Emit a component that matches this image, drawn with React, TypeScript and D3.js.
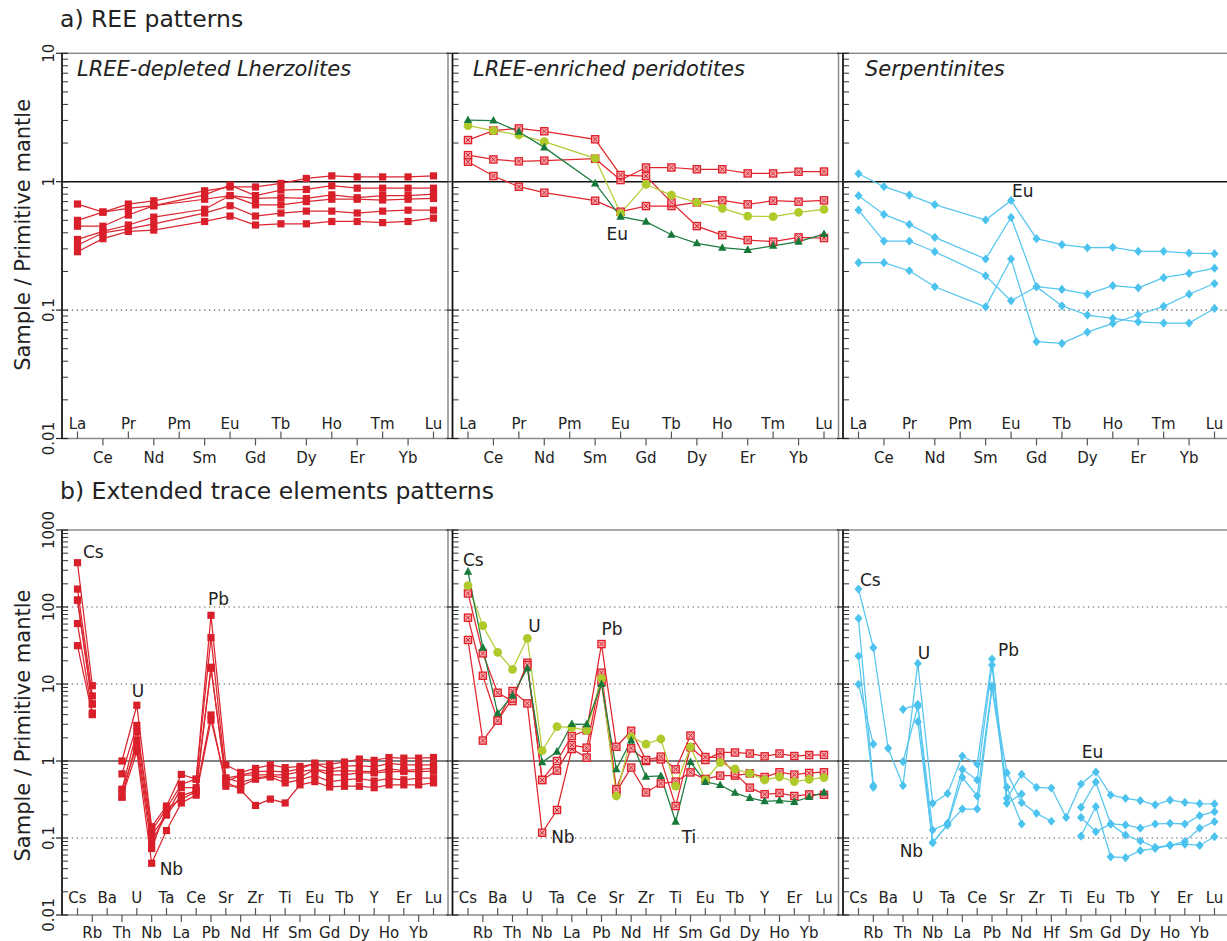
import React from "react";
import * as d3 from "d3";

// ---------- element orders ----------
const REE = ["La", "Ce", "Pr", "Nd", "Pm", "Sm", "Eu", "Gd", "Tb", "Dy", "Ho", "Er", "Tm", "Yb", "Lu"];
const TRACE = ["Cs", "Rb", "Ba", "Th", "U", "Nb", "Ta", "La", "Ce", "Pb", "Sr", "Nd", "Zr", "Hf", "Ti", "Sm", "Eu", "Gd", "Tb", "Dy", "Y", "Ho", "Er", "Yb", "Lu"];

// ---------- y tick labels ----------
const TOP_TICKS = [0.01, 0.1, 1, 10];
const TOP_TICK_LABELS = ["0.01", "0.1", "1", "10"];
const BOT_TICKS = [0.01, 0.1, 1, 10, 100, 1000];
const BOT_TICK_LABELS = ["0.01", "0.1", "1", "10", "100", "1000"];

// ---------- REE, primitive-mantle normalised ----------
// LREE-depleted lherzolites
const lhzRee1 = [0.67, 0.58, 0.67, 0.71, null, 0.85, 0.91, 0.91, 0.97, 1.06, 1.11, 1.09, 1.09, 1.09, 1.11];
const lhzRee2 = [0.50, 0.58, 0.62, 0.65, null, 0.79, 0.94, 0.78, 0.86, 0.87, 0.93, 0.89, 0.89, 0.89, 0.89];
const lhzRee3 = [0.45, 0.45, 0.55, 0.65, null, 0.73, 0.78, 0.74, 0.75, 0.74, 0.79, 0.75, 0.78, 0.78, 0.80];
const lhzRee4 = [0.355, 0.41, 0.46, 0.53, null, 0.61, 0.78, 0.66, 0.66, 0.70, 0.73, 0.73, 0.72, 0.73, 0.74];
const lhzRee5 = [0.32, 0.40, 0.43, 0.47, null, 0.57, 0.65, 0.54, 0.57, 0.59, 0.59, 0.57, 0.59, 0.60, 0.60];
const lhzRee6 = [0.285, 0.36, 0.41, 0.42, null, 0.49, 0.54, 0.46, 0.47, 0.47, 0.49, 0.49, 0.48, 0.49, 0.52];

// LREE-enriched peridotites
const enrReeGreen = [3.02, 2.99, 2.45, 1.85, null, 0.97, 0.534, 0.488, 0.386, 0.331, 0.306, 0.294, 0.317, 0.341, 0.391];
const enrReeYellow = [2.73, 2.50, 2.31, 2.05, null, 1.52, 0.567, 0.953, 0.787, 0.69, 0.62, 0.54, 0.534, 0.577, 0.609];
const enrReeRed1 = [2.11, 2.50, 2.60, 2.47, null, 2.14, 1.127, 1.107, 0.69, 0.451, 0.384, 0.351, 0.341, 0.368, 0.364];
const enrReeRed2 = [1.61, 1.49, 1.44, 1.46, null, 1.51, 1.03, 1.29, 1.29, 1.25, 1.25, 1.16, 1.16, 1.196, 1.20];
const enrReeRed3 = [1.43, 1.107, 0.914, 0.821, null, 0.711, 0.584, 0.646, 0.646, 0.69, 0.715, 0.666, 0.711, 0.699, 0.715];

// Serpentinites
const serpRee1 = [1.154, 0.914, 0.787, 0.662, null, 0.503, 0.715, 0.36, 0.323, 0.306, 0.308, 0.287, 0.287, 0.278, 0.275];
const serpRee2 = [0.778, 0.556, 0.465, 0.368, null, 0.25, 0.527, 0.152, 0.108, 0.0914, 0.0861, 0.0811, 0.0792, 0.0792, 0.103];
const serpRee3 = [0.601, 0.345, 0.345, 0.285, null, 0.185, 0.118, 0.152, 0.145, 0.133, 0.155, 0.149, 0.179, 0.193, 0.212];
const serpRee4 = [0.234, 0.234, 0.2025, 0.152, null, 0.106, 0.25, 0.0567, 0.055, 0.0674, 0.0787, 0.092, 0.107, 0.133, 0.161];

// ---------- extended trace elements, primitive-mantle normalised ----------
const lhzTr1 = [376, 9.5, null, 1.0, 5.3, 0.14, 0.26, 0.67, 0.58, 78, 0.89, 0.71, 0.80, 0.89, 0.82, 0.85, 0.91, 0.91, 0.97, 1.06, 1.02, 1.11, 1.09, 1.09, 1.11];
const lhzTr2 = [171, 7.0, null, 0.68, 2.9, 0.124, 0.24, 0.50, 0.58, 40, 0.60, 0.65, 0.73, 0.74, 0.72, 0.79, 0.94, 0.78, 0.86, 0.87, 0.84, 0.93, 0.89, 0.89, 0.89];
const lhzTr3 = [123, 5.5, null, 0.43, 2.4, 0.109, 0.20, 0.45, 0.45, 16.5, 0.54, 0.65, 0.66, 0.66, 0.66, 0.73, 0.78, 0.74, 0.75, 0.74, 0.72, 0.79, 0.75, 0.78, 0.80];
const lhzTr4 = [61, 4.2, null, 0.34, 1.87, 0.09, 0.20, 0.355, 0.41, 16, 0.60, 0.53, 0.60, 0.64, 0.60, 0.61, 0.78, 0.66, 0.66, 0.70, 0.70, 0.73, 0.73, 0.73, 0.74];
const lhzTr5 = [31.5, 4.0, null, 0.42, 1.53, 0.073, 0.24, 0.32, 0.40, 3.96, 0.47, 0.47, 0.58, 0.62, 0.52, 0.57, 0.65, 0.54, 0.57, 0.59, 0.55, 0.59, 0.57, 0.60, 0.60];
const lhzTr6 = [123, 5.5, null, 0.34, 1.32, 0.047, 0.125, 0.285, 0.36, 3.4, 0.54, 0.42, 0.265, 0.32, 0.285, 0.49, 0.54, 0.46, 0.47, 0.47, 0.45, 0.49, 0.49, 0.49, 0.52];

const enrTrGreen = [288, 29.6, 4.16, 7.05, 16, 0.96, 1.32, 3.02, 2.99, 10, 0.78, 1.85, 0.626, 0.639, 0.163, 0.97, 0.534, 0.488, 0.386, 0.331, 0.30, 0.306, 0.294, 0.341, 0.391];
const enrTrYellow = [189, 57.2, 25.8, 15.5, 39.2, 1.36, 2.79, 2.73, 2.50, 11.8, 0.351, 2.05, 1.66, 1.93, 0.473, 1.52, 0.567, 0.953, 0.787, 0.69, 0.567, 0.62, 0.54, 0.577, 0.609];
const enrTrRed1 = [72.6, 12.8, 3.34, 6.5, 17.6, 0.567, 1.0, 2.11, 2.50, 33, 1.53, 2.47, 1.03, 1.14, 0.78, 2.14, 1.127, 1.107, 0.69, 0.451, 0.37, 0.384, 0.351, 0.368, 0.364];
const enrTrRed2 = [150, 25, 7.7, 6.0, 18.9, 0.567, 0.75, 1.61, 1.49, 14, 0.43, 1.46, 1.0, 1.05, 0.26, 1.51, 1.03, 1.29, 1.29, 1.25, 1.15, 1.25, 1.16, 1.196, 1.20];
const enrTrRed3 = [37.3, 1.84, 3.34, 8.1, 5.6, 0.117, 0.231, 1.43, 1.107, 10.7, 0.40, 0.821, 0.39, 0.51, 0.54, 0.711, 0.584, 0.646, 0.646, 0.69, 0.62, 0.715, 0.666, 0.699, 0.715];

const serpTr1 = [171, 29.6, 1.46, 0.48, 18.5, 0.282, 0.377, 1.16, 0.914, 21.1, 0.328, 0.671, 0.455, 0.446, 0.185, 0.503, 0.72, 0.362, 0.328, 0.305, 0.27, 0.311, 0.29, 0.279, 0.277];
const serpTr2 = [71, 0.48, null, 4.69, 5.44, 0.127, 0.155, 0.78, 0.567, 17.6, 0.282, 0.373, null, null, null, 0.25, 0.533, 0.152, 0.109, 0.0914, 0.0757, 0.081, 0.083, 0.08, 0.104];
const serpTr3 = [23.1, 0.455, null, 0.98, 5.1, 0.087, 0.148, 0.614, 0.351, 9.4, 0.706, 0.288, 0.209, 0.165, null, 0.185, 0.121, 0.152, 0.148, 0.134, 0.152, 0.155, 0.152, 0.195, 0.22];
const serpTr4 = [9.9, 1.66, null, null, 3.24, 0.087, 0.148, 0.238, 0.238, 8.8, 0.455, 0.152, null, null, null, 0.106, 0.255, 0.057, 0.0555, 0.0685, 0.073, 0.08, 0.09, 0.134, 0.163];

// ---------- styles ----------
const FONT = "DejaVu Sans, Verdana, sans-serif";
const INK = "#222";
const FRAME = "#8a8a8a";

const RED_SOLID = { kind: "square", line: "#dc2630", fill: "#d81f2a", stroke: "none" };
const RED_CROSS = { kind: "xsquare", line: "#e2252d", fill: "#f3a9ad", stroke: "#df1f2a" };
const GREEN_TRI = { kind: "triangle", line: "#1c7d3f", fill: "#16793a", stroke: "none" };
const YELLOW_DOT = { kind: "circle", line: "#b3cc35", fill: "#b0ca2c", stroke: "none" };
const CYAN_DIAMOND = { kind: "diamond", line: "#55c6f0", fill: "#4cc2ee", stroke: "none" };

const lhzReeSeries = [lhzRee1, lhzRee2, lhzRee3, lhzRee4, lhzRee5, lhzRee6].map((values) => ({ values, style: RED_SOLID }));
const enrReeSeries = [
  { values: enrReeRed3, style: RED_CROSS },
  { values: enrReeRed2, style: RED_CROSS },
  { values: enrReeRed1, style: RED_CROSS },
  { values: enrReeYellow, style: YELLOW_DOT },
  { values: enrReeGreen, style: GREEN_TRI },
];
const serpReeSeries = [serpRee1, serpRee2, serpRee3, serpRee4].map((values) => ({ values, style: CYAN_DIAMOND }));

const lhzTrSeries = [lhzTr1, lhzTr2, lhzTr3, lhzTr4, lhzTr5, lhzTr6].map((values) => ({ values, style: RED_SOLID }));
const enrTrSeries = [
  { values: enrTrRed3, style: RED_CROSS },
  { values: enrTrRed2, style: RED_CROSS },
  { values: enrTrRed1, style: RED_CROSS },
  { values: enrTrYellow, style: YELLOW_DOT },
  { values: enrTrGreen, style: GREEN_TRI },
];
const serpTrSeries = [serpTr1, serpTr2, serpTr3, serpTr4].map((values) => ({ values, style: CYAN_DIAMOND }));

// ---------- layout ----------
const PANEL_W = 386;
const PANEL_X = [62, 452.5, 843];
const ROW_TOP = { top: 53.3, bottom: 438.5, domain: [0.01, 10], upperDy: -10, lowerDy: 24.5 };
const ROW_BOT = { top: 530, bottom: 915, domain: [0.01, 1000], upperDy: -12, lowerDy: 23 };

function Marker({ style, cx, cy }: any) {
  const s = style;
  if (s.kind === "square") {
    return <rect x={cx - 3.6} y={cy - 3.6} width={7.2} height={7.2} fill={s.fill} />;
  }
  if (s.kind === "xsquare") {
    const h = 3.6;
    return (
      <g>
        <rect x={cx - h} y={cy - h} width={2 * h} height={2 * h} fill={s.fill} stroke={s.stroke} strokeWidth={1.3} />
        <path d={`M${cx - h + 1.5},${cy - h + 1.5}L${cx + h - 1.5},${cy + h - 1.5}M${cx + h - 1.5},${cy - h + 1.5}L${cx - h + 1.5},${cy + h - 1.5}`} stroke={s.stroke} strokeWidth={1} />
      </g>
    );
  }
  if (s.kind === "triangle") {
    return <path d={`M${cx},${cy - 4.6}L${cx + 4.2},${cy + 3}L${cx - 4.2},${cy + 3}Z`} fill={s.fill} />;
  }
  if (s.kind === "circle") {
    return <circle cx={cx} cy={cy} r={4.4} fill={s.fill} />;
  }
  return <path d={`M${cx},${cy - 4.6}L${cx + 4},${cy}L${cx},${cy + 4.6}L${cx - 4},${cy}Z`} fill={s.fill} />;
}

function Panel({ x0, row, elements, series, bridgeGaps, subtitle, subtitleX, notes, yTicks, yTickLabels, showYLabels, solidColor, solidWidth, dotted }: any) {
  const x = d3.scalePoint<string>().domain(elements).range([x0 + 15.5, x0 + PANEL_W - 14.5]);
  const y = d3.scaleLog().domain(row.domain).range([row.bottom, row.top]);
  const x1 = x0 + PANEL_W;
  const lo = Math.round(Math.log10(row.domain[0]));
  const hi = Math.round(Math.log10(row.domain[1]));
  const minors = d3.range(lo, hi).flatMap((d: number) => d3.range(2, 10).map((m: number) => m * Math.pow(10, d)));

  const line = d3
    .line<any>()
    .x((d) => x(d.el) as number)
    .y((d) => y(d.v));
  if (!bridgeGaps) line.defined((d) => d.v != null);

  return (
    <g>
      {/* reference lines */}
      {dotted.map((v: number) => (
        <line key={"d" + v} x1={x0} x2={x1} y1={y(v)} y2={y(v)} stroke="#555" strokeWidth={1.2} strokeDasharray="1.3 3.6" />
      ))}
      <line x1={x0} x2={x1} y1={y(1)} y2={y(1)} stroke={solidColor} strokeWidth={solidWidth} />

      {/* sample patterns */}
      {series.map((s: any, i: number) => {
        let pts = elements.map((el: string, j: number) => ({ el, v: s.values[j] }));
        if (bridgeGaps) pts = pts.filter((p: any) => p.v != null);
        return <path key={"l" + i} d={line(pts) || ""} fill="none" stroke={s.style.line} strokeWidth={1.25} />;
      })}
      {series.map((s: any, i: number) => (
        <g key={"m" + i}>
          {elements.map((el: string, j: number) =>
            s.values[j] == null ? null : <Marker key={el} style={s.style} cx={x(el)} cy={y(s.values[j])} />
          )}
        </g>
      ))}

      {/* frame */}
      <rect x={x0} y={row.top} width={PANEL_W} height={row.bottom - row.top} fill="none" stroke={FRAME} strokeWidth={1.5} />
      <line x1={x0} x2={x0} y1={row.top} y2={row.bottom} stroke="#111" strokeWidth={1.6} />

      {/* y axis ticks */}
      {minors.map((v: number) => (
        <line key={"mi" + v} x1={x0} x2={x0 + 6} y1={y(v)} y2={y(v)} stroke="#333" strokeWidth={1} />
      ))}
      {yTicks.map((v: number, i: number) => (
        <g key={"ma" + v}>
          <line x1={x0 - 6} x2={x0 + 6} y1={y(v)} y2={y(v)} stroke="#222" strokeWidth={1.2} />
          {showYLabels ? (
            <text transform={`translate(${x0 - 8},${y(v)}) rotate(-90)`} textAnchor="middle" fontFamily={FONT} fontSize={15} fill={INK}>
              {yTickLabels[i]}
            </text>
          ) : null}
        </g>
      ))}

      {/* x axis: alternating labels inside / outside */}
      {elements.map((el: string, j: number) => {
        const xx = x(el) as number;
        const upper = j % 2 === 0;
        return (
          <g key={"x" + el}>
            <line x1={xx} x2={xx} y1={row.bottom} y2={upper ? row.bottom - 7 : row.bottom + 7} stroke="#555" strokeWidth={1.2} />
            <text x={xx} y={row.bottom + (upper ? row.upperDy : row.lowerDy)} textAnchor="middle" fontFamily={FONT} fontSize={15} fill={INK}>
              {el}
            </text>
          </g>
        );
      })}

      {subtitle ? (
        <text x={subtitleX} y={row.top + 23} fontFamily={FONT} fontStyle="italic" fontSize={21} fill={INK}>
          {subtitle}
        </text>
      ) : null}

      {notes.map((n: any) => (
        <text key={n.text + n.el} x={(x(n.el) as number) + n.dx} y={y(n.v)} fontFamily={FONT} fontSize={17} fill={INK}>
          {n.text}
        </text>
      ))}
    </g>
  );
}

export default function App() {
  const yTitle = "Sample / Primitive mantle";
  const midTop = (ROW_TOP.top + ROW_TOP.bottom) / 2 - 11;
  const midBot = (ROW_BOT.top + ROW_BOT.bottom) / 2 + 3;
  return (
    <svg width={1227} height={941} style={{ position: "absolute", left: 0, top: 0, background: "#fff" }}>
      <rect width={1227} height={941} fill="#fff" />
      <text x={60} y={27} fontFamily={FONT} fontSize={23.5} fill={INK}>a) REE patterns</text>
      <text x={60} y={499} fontFamily={FONT} fontSize={23.5} fill={INK}>b) Extended trace elements patterns</text>

      <text transform={`translate(30,${midTop}) rotate(-90)`} textAnchor="middle" fontFamily={FONT} fontSize={21} fill={INK}>{yTitle}</text>
      <text transform={`translate(30,${midBot}) rotate(-90)`} textAnchor="middle" fontFamily={FONT} fontSize={21} fill={INK}>{yTitle}</text>

      {/* a) REE */}
      <Panel x0={PANEL_X[0]} row={ROW_TOP} elements={REE} series={lhzReeSeries} bridgeGaps subtitle="LREE-depleted Lherzolites" subtitleX={77}
        notes={[]} yTicks={TOP_TICKS} yTickLabels={TOP_TICK_LABELS} showYLabels solidColor="#111" solidWidth={1.6} dotted={[0.1]} />
      <Panel x0={PANEL_X[1]} row={ROW_TOP} elements={REE} series={enrReeSeries} bridgeGaps subtitle="LREE-enriched peridotites" subtitleX={473}
        notes={[{ text: "Eu", el: "Eu", v: 0.352, dx: -14 }]} yTicks={TOP_TICKS} yTickLabels={TOP_TICK_LABELS} showYLabels={false} solidColor="#111" solidWidth={1.6} dotted={[0.1]} />
      <Panel x0={PANEL_X[2]} row={ROW_TOP} elements={REE} series={serpReeSeries} bridgeGaps subtitle="Serpentinites" subtitleX={865}
        notes={[{ text: "Eu", el: "Eu", v: 0.76, dx: 1 }]} yTicks={TOP_TICKS} yTickLabels={TOP_TICK_LABELS} showYLabels={false} solidColor="#111" solidWidth={1.6} dotted={[0.1]} />

      {/* b) extended trace elements */}
      <Panel x0={PANEL_X[0]} row={ROW_BOT} elements={TRACE} series={lhzTrSeries} bridgeGaps={false}
        notes={[
          { text: "Cs", el: "Cs", v: 433, dx: 5.5 },
          { text: "U", el: "U", v: 6.78, dx: -5 },
          { text: "Pb", el: "Pb", v: 106, dx: -3 },
          { text: "Nb", el: "Nb", v: 0.033, dx: 8 },
        ]}
        yTicks={BOT_TICKS} yTickLabels={BOT_TICK_LABELS} showYLabels solidColor="#555" solidWidth={1.3} dotted={[0.1, 10, 100]} />
      <Panel x0={PANEL_X[1]} row={ROW_BOT} elements={TRACE} series={enrTrSeries} bridgeGaps={false}
        notes={[
          { text: "Cs", el: "Cs", v: 341, dx: -5 },
          { text: "U", el: "U", v: 47.3, dx: 1 },
          { text: "Pb", el: "Pb", v: 43.3, dx: 0 },
          { text: "Nb", el: "Nb", v: 0.086, dx: 9 },
          { text: "Ti", el: "Ti", v: 0.086, dx: 6 },
        ]}
        yTicks={BOT_TICKS} yTickLabels={BOT_TICK_LABELS} showYLabels={false} solidColor="#555" solidWidth={1.3} dotted={[0.1, 10, 100]} />
      <Panel x0={PANEL_X[2]} row={ROW_BOT} elements={TRACE} series={serpTrSeries} bridgeGaps={false}
        notes={[
          { text: "Cs", el: "Cs", v: 187.5, dx: 1.5 },
          { text: "U", el: "U", v: 21.1, dx: 0 },
          { text: "Pb", el: "Pb", v: 23.1, dx: 6 },
          { text: "Nb", el: "Nb", v: 0.0567, dx: -33 },
          { text: "Eu", el: "Eu", v: 1.094, dx: -14 },
        ]}
        yTicks={BOT_TICKS} yTickLabels={BOT_TICK_LABELS} showYLabels={false} solidColor="#555" solidWidth={1.3} dotted={[0.1, 10, 100]} />
    </svg>
  );
}
